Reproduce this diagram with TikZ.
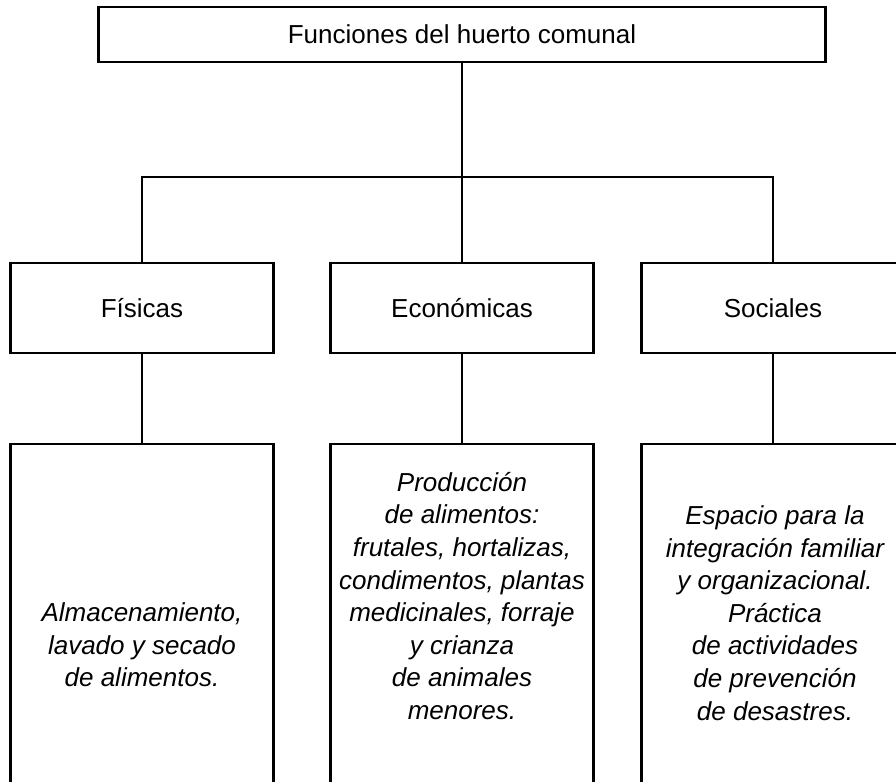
\documentclass[tikz,border=0pt]{standalone}
\usepackage{fontspec}
\setmainfont{Liberation Sans}
\usetikzlibrary{positioning}

\begin{document}
\begin{tikzpicture}[x=0.5pt,y=-0.5pt,
  font=\fontsize{13}{16.3}\selectfont,
  lw/.style={line width=1.1pt},
  box/.style={draw,lw,minimum width=131.5pt,inner sep=0pt},
  top/.style={draw,lw,minimum width=363.5pt,minimum height=27.5pt,inner sep=0pt},
  mid/.style={box,minimum height=45pt},
  low/.style={box,minimum height=203pt},
  txt/.style={align=center,font=\fontsize{13}{16.3}\selectfont\itshape,inner sep=0pt}]
\clip (0,0) rectangle (896,782);
\node[top] (fun) at (462,34.5) {Funciones del huerto comunal};
\node[mid] (fis) at (142,308) {Físicas};
\node[mid] (eco) at (462,308) {Económicas};
\node[mid] (soc) at (773,308) {Sociales};
\node[low] (alm) at (142,647) {};
\node[low] (pro) at (462,647) {};
\node[low] (esp) at (773,647) {};
\node[txt] (almt) at (142,645) {Almacenamiento,\\lavado y secado\\de alimentos.};
\node[txt] (prot) at (462,596) {Producción\\de alimentos:\\frutales, hortalizas,\\condimentos, plantas\\medicinales, forraje\\y crianza\\de animales\\menores.};
\node[txt] (espt) at (775,613) {Espacio para la\\integración familiar\\y organizacional.\\Práctica\\de actividades\\de prevención\\de desastres.};
\coordinate (busl) at (142,177);
\coordinate (busr) at (773,177);
\draw[lw] (fis.north) -- (busl) -- (busr) -- (soc.north);
\draw[lw] (fun.south) -- (eco.north);
\draw[lw] (fis.south) -- (alm.north);
\draw[lw] (eco.south) -- (pro.north);
\draw[lw] (soc.south) -- (esp.north);
\end{tikzpicture}
\end{document}
